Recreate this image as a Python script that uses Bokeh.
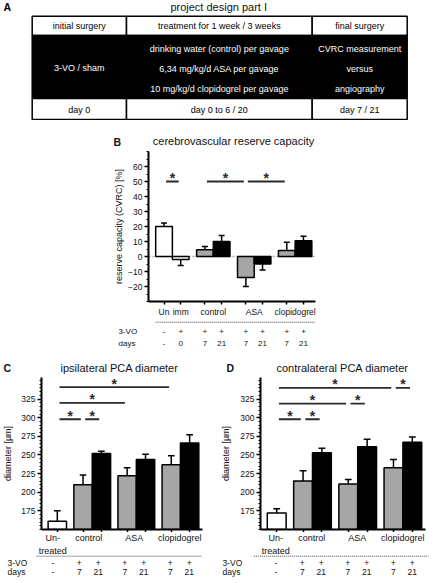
from bokeh.plotting import figure
from bokeh.models import Range1d, FixedTicker, ColumnDataSource, Span
from bokeh.layouts import column, row
from bokeh.embed import file_html
from bokeh.resources import INLINE
from bokeh.core.properties import value

FONT = "Liberation Sans"

# ---------------- data ----------------
# Panel A: project design table
a_letter = "A"
a_title = "project design part I"
a_header = ["initial surgery", "treatment for 1 week / 3 weeks", "final surgery"]
a_surgery = ["3-VO / sham"]
a_treatment = ["drinking water (control) per gavage",
               "6,34 mg/kg/d ASA per gavage",
               "10 mg/kg/d clopidogrel per gavage"]
a_final = ["CVRC measurement", "versus", "angiography"]
a_days = ["day 0", "day 0 to 6 / 20", "day 7 / 21"]

# Panel B: cerebrovascular reserve capacity
b_letter = "B"
b_title = "cerebrovascular reserve capacity"
b_ylabel = "reserve capacity (CVRC) [%]"
b_values = [20, -2, 4.5, 10, -14, -5, 4, 10.5]
b_errors = [2.4, 4, 2.2, 4, 6, 4, 5.5, 3]
b_kind = ["none", "none", "7", "21", "7", "21", "7", "21"]
b_bar_group = [0, 0, 1, 1, 2, 2, 3, 3]
b_group_labels = ["Un", "imm", "control", "ASA", "clopidogrel"]
b_group_bars = [[0], [1], [2, 3], [4, 5], [6, 7]]
b_vo = ["-", "+", "+", "+", "+", "+", "+", "+"]
b_days = ["-", "0", "7", "21", "7", "21", "7", "21"]
b_yticks = [-20, -10, 0, 10, 20, 30, 40, 50, 60]
b_sig = [(0, 1, 50), (2, 4, 50), (4, 6, 50)]

# Panels C / D: PCA diameter
cd_ylabel = "diameter [µm]"
cd_kind = ["none", "7", "21", "7", "21", "7", "21"]
cd_bar_group = [0, 1, 1, 2, 2, 3, 3]
cd_group_labels = ["Un-\ntreated", "control", "ASA", "clopidogrel"]
cd_group_bars = [[0], [1, 2], [3, 4], [5, 6]]
cd_vo = ["-", "+", "+", "+", "+", "+", "+"]
cd_days = ["-", "7", "21", "7", "21", "7", "21"]
cd_yticks = [175, 200, 225, 250, 275, 300, 325]

c_letter = "C"
c_title = "ipsilateral PCA diameter"
c_values = [161, 210, 252, 222, 244, 237, 266]
c_errors = [14, 13, 3, 11, 7, 12, 11]
c_sig = [(0, 5, 341), (0, 3, 320), (0, 1, 298), (1, 2, 298)]

d_letter = "D"
d_title = "contralateral PCA diameter"
d_values = [172, 215, 253, 211, 261, 233, 267]
d_errors = [6, 14, 6, 6, 10, 11, 7]
d_sig = [(0, 5, 340), (5, 6, 340), (0, 3, 319), (3, 4, 319), (0, 1, 298), (1, 2, 298)]

row_names = ["3-VO", "days"]

# ---------------- style / layout ----------------
W, H = 436, 583
FILL = {"none": "white", "7": "#a6a6a6", "21": "black"}
CAP = 0.18
INSET = 0.12
TXT = "#111111"
SIG = "#2a2a2a"
LETTER_SIZE = "10.5px"


def bar_positions(groups, gap):
    return [i + gap * g for i, g in enumerate(groups)]


def label_positions(xs, group_bars):
    return [sum(xs[i] for i in bars) / len(bars) for bars in group_bars]


def plain_fig(w, h, xr, yr):
    p = figure(width=w, height=h, x_range=xr, y_range=yr, output_backend="svg",
               toolbar_location=None, x_axis_location=None, y_axis_location=None,
               title=None, min_border_left=0, min_border_right=0,
               min_border_top=0, min_border_bottom=0)
    p.frame_align = False
    p.grid.visible = False
    p.outline_line_color = None
    return p


def chart_fig(w, h, xr, yr, left, right, top, bottom):
    p = figure(width=w, height=h, x_range=xr, y_range=yr, output_backend="svg",
               toolbar_location=None, title=None, min_border_left=left,
               min_border_right=right, min_border_top=top, min_border_bottom=bottom)
    p.frame_align = False
    p.grid.visible = False
    p.outline_line_color = None
    return p


def style_axes(p, xs, yticks, yminor, ylabel, label_standoff):
    xa = p.xaxis[0]
    xa.ticker = FixedTicker(ticks=[], minor_ticks=xs)
    xa.major_label_standoff = 0
    xa.major_tick_out = 0
    xa.major_tick_in = 0
    xa.minor_tick_out = 3
    xa.minor_tick_in = 0
    xa.minor_tick_line_width = 1.5
    xa.minor_tick_line_color = "black"
    xa.axis_line_width = 2
    ya = p.yaxis[0]
    ya.ticker = FixedTicker(ticks=yticks, minor_ticks=yminor)
    ya.major_tick_out = 4
    ya.major_tick_in = 0
    ya.major_tick_line_width = 1.5
    ya.minor_tick_out = 2
    ya.minor_tick_in = 0
    ya.minor_tick_line_width = 1
    ya.axis_line_width = 2
    ya.major_label_text_font = FONT
    ya.major_label_text_font_size = "8.5px"
    ya.major_label_text_color = TXT
    ya.major_label_standoff = 2
    ya.axis_label = ylabel
    ya.axis_label_text_font = FONT
    ya.axis_label_text_font_size = "9px"
    ya.axis_label_text_font_style = "normal"
    ya.axis_label_text_color = TXT
    ya.axis_label_standoff = label_standoff


def draw_bars(p, xs, vals, errs, kinds, base):
    tips = [v + e if v >= 0 else v - e for v, e in zip(vals, errs)]
    src = ColumnDataSource(dict(x=xs, top=vals, tip=tips,
                                xl=[x - CAP for x in xs], xr=[x + CAP for x in xs],
                                fill=[FILL[k] for k in kinds]))
    p.segment(x0="x", y0="top", x1="x", y1="tip", line_color="black",
              line_width=1.5, source=src)
    p.vbar(x="x", width=1, bottom=base, top="top", fill_color="fill",
           line_color="black", line_width=1.5, source=src)
    p.segment(x0="xl", y0="tip", x1="xr", y1="tip", line_color="black",
              line_width=1.5, source=src)


def draw_sig(p, xs, sig):
    x0 = [xs[i] + INSET for i, j, y in sig]
    x1 = [xs[j] - INSET for i, j, y in sig]
    ys = [y for i, j, y in sig]
    p.segment(x0=x0, y0=ys, x1=x1, y1=ys, line_color=SIG, line_width=1.8)
    p.text(x=[(a + b) / 2 for a, b in zip(x0, x1)], y=ys, text=["*"] * len(sig),
           text_align="center", text_baseline="alphabetic", y_offset=-3.5,
           text_font=value(FONT), text_font_size="14px", text_font_style="bold",
           text_color=SIG)


def header_fig(h, items):
    # items: (x_px, centre_px, text, size, bold, align)
    p = plain_fig(W, h, Range1d(0, W), Range1d(h, 0))
    for x, y, t, size, bold, align in items:
        p.text(x=[x], y=[y], text=[t], text_align=align, text_baseline="middle",
               text_font=value(FONT), text_font_size=size,
               text_font_style="bold" if bold else "normal", text_color=TXT)
    return p


def rows_fig(w, h, x0, x1, left, right, frame_w, xs, labels, label_bars,
             vo, days, label_y, line_x, line_y, row_y, name_px, lab_size,
             row_size, line_height):
    ppu = frame_w / (x1 - x0)
    xr = Range1d(x0 - left / ppu, x1 + right / ppu)
    p = plain_fig(w, h, xr, Range1d(h, 0))
    lx = label_positions(xs, label_bars)
    p.text(x=lx, y=[label_y] * len(lx), text=labels, text_align="center",
           text_baseline="top", text_font=value(FONT), text_font_size=lab_size,
           text_color=TXT, text_line_height=line_height)
    p.segment(x0=[line_x[0]], y0=[line_y], x1=[line_x[1]], y1=[line_y],
              line_color="#444444", line_width=1, line_dash="1 1")
    nx = xr.start + name_px / ppu
    p.text(x=[nx, nx], y=row_y, text=row_names, text_align="left",
           text_baseline="middle", text_font=value(FONT), text_font_size=row_size,
           text_color=TXT)
    p.text(x=xs, y=[row_y[0]] * len(xs), text=vo, text_align="center",
           text_baseline="middle", text_font=value(FONT), text_font_size=row_size,
           text_color=TXT)
    p.text(x=xs, y=[row_y[1]] * len(xs), text=days, text_align="center",
           text_baseline="middle", text_font=value(FONT), text_font_size=row_size,
           text_color=TXT)
    return p


# ---------------- panel A ----------------
A_H = 120
col_edges = [31.7, 126, 311.7, 406.7]
row_edges = [15.7, 35, 98, 119]
figA = plain_fig(W, A_H, Range1d(0, W), Range1d(A_H, 0))
lefts = col_edges[:-1]
rights = col_edges[1:]
centers = [(a + b) / 2 for a, b in zip(lefts, rights)]
figA.quad(left=lefts, right=rights, top=[row_edges[0]] * 3, bottom=[row_edges[1]] * 3,
          fill_color="white", line_color="black", line_width=1.5)
figA.quad(left=[col_edges[0]], right=[col_edges[-1]], top=[row_edges[1]],
          bottom=[row_edges[2]], fill_color="black", line_color="black", line_width=1.5)
figA.quad(left=lefts, right=rights, top=[row_edges[2]] * 3, bottom=[row_edges[3]] * 3,
          fill_color="white", line_color="black", line_width=1.5)
hy = (row_edges[0] + row_edges[1]) / 2 + 0.6
fy = (row_edges[2] + row_edges[3]) / 2 + 1.2
mid = (row_edges[1] + row_edges[2]) / 2 + 1.8
line_gap = 20.3
tkw = dict(text_align="center", text_baseline="middle", text_font=value(FONT),
           text_font_size="9px")
figA.text(x=centers, y=[hy] * 3, text=a_header, text_color="black", **tkw)
figA.text(x=centers, y=[fy] * 3, text=a_days, text_color="black", **tkw)
figA.text(x=[centers[0]], y=[mid - 1], text=a_surgery, text_color="white", **tkw)
ly = [mid + (k - 1) * line_gap for k in range(3)]
figA.text(x=[centers[1]] * 3, y=ly, text=a_treatment, text_color="white", **tkw)
figA.text(x=[centers[2]] * 3, y=ly, text=a_final, text_color="white", **tkw)
figA.text(x=[(col_edges[0] + col_edges[-1]) / 2 - 1], y=[6.3], text=[a_title],
          text_align="center", text_baseline="middle", text_font=value(FONT),
          text_font_size="11px", text_color=TXT)
figA.text(x=[3], y=[6.7], text=[a_letter], text_align="left", text_baseline="middle",
          text_font=value(FONT), text_font_size=LETTER_SIZE, text_font_style="bold",
          text_color="black")

# ---------------- panel B ----------------
B_LEFT, B_FW, B_TOP, B_FH, B_BOT = 148, 167, 1, 150, 5
B_RIGHT = W - B_LEFT - B_FW
B_H = B_TOP + B_FH + B_BOT
BH_H = 30
figBH = header_fig(BH_H, [(113, 21, b_letter, LETTER_SIZE, True, "left"),
                          (B_LEFT + B_FW / 2 + 1.5, 20.3, b_title, "11px", False, "center")])

b_x = bar_positions(b_bar_group, 0.45)
b_x0, b_x1 = b_x[0] - 0.93, b_x[-1] + 0.72
figB = chart_fig(W, B_H, Range1d(b_x0, b_x1), Range1d(-30, 70), B_LEFT, B_RIGHT,
                 B_TOP, B_BOT)
style_axes(figB, b_x, b_yticks, list(range(-30, 71, 5)), b_ylabel, 1)
figB.add_layout(Span(location=0, dimension="width", line_color="#a8a8a8",
                     line_dash="2 2", line_width=1.5, level="underlay"))
draw_bars(figB, b_x, b_values, b_errors, b_kind, 0)
draw_sig(figB, b_x, b_sig)

BR_H = 54
figBR = rows_fig(W, BR_H, b_x0, b_x1, B_LEFT, B_RIGHT, B_FW, b_x, b_group_labels,
                 b_group_bars, b_vo, b_days, 0.5, (b_x[0] - 0.5, b_x1), 15.7,
                 [24.7, 36.7], 118, "8.5px", "8px", 1.2)

# ---------------- panels C / D ----------------
CDH_H = 17
CD_TOP, CD_FH, CD_BOT, CD_FW = 0, 152, 3, 166
CD_H = CD_TOP + CD_FH + CD_BOT
CDR_H = H - A_H - BH_H - B_H - BR_H - CDH_H - CD_H
HW = W // 2
C_LEFT = 36
C_RIGHT = HW - C_LEFT - CD_FW
D_LEFT = 41
D_RIGHT = HW - D_LEFT - CD_FW

figCDH = header_fig(CDH_H, [(3, 7, c_letter, LETTER_SIZE, True, "left"),
                            (C_LEFT + CD_FW / 2, 7, c_title, "11px", False, "center"),
                            (226, 7, d_letter, LETTER_SIZE, True, "left"),
                            (HW + D_LEFT + CD_FW / 2, 7, d_title, "11px", False, "center")])

cd_x = bar_positions(cd_bar_group, 0.4)
cd_x0, cd_x1 = cd_x[0] - 0.86, cd_x[-1] + 0.7
cd_minor = list(range(150, 355, 5))

figC = chart_fig(HW, CD_H, Range1d(cd_x0, cd_x1), Range1d(150, 354), C_LEFT, C_RIGHT,
                 CD_TOP, CD_BOT)
style_axes(figC, cd_x, cd_yticks, cd_minor, cd_ylabel, 5)
draw_bars(figC, cd_x, c_values, c_errors, cd_kind, 150)
draw_sig(figC, cd_x, c_sig)

figD = chart_fig(HW, CD_H, Range1d(cd_x0, cd_x1), Range1d(150, 354), D_LEFT, D_RIGHT,
                 CD_TOP, CD_BOT)
style_axes(figD, cd_x, cd_yticks, cd_minor, cd_ylabel, 6)
draw_bars(figD, cd_x, d_values, d_errors, cd_kind, 150)
draw_sig(figD, cd_x, d_sig)

figCR = rows_fig(HW, CDR_H, cd_x0, cd_x1, C_LEFT, C_RIGHT, CD_FW, cd_x, cd_group_labels,
                 cd_group_bars, cd_vo, cd_days, 0.5, (cd_x0, cd_x1), 23.7,
                 [30.7, 39.7], 7, "9px", "8.5px", 1.3)
figDR = rows_fig(HW, CDR_H, cd_x0, cd_x1, D_LEFT, D_RIGHT, CD_FW, cd_x, cd_group_labels,
                 cd_group_bars, cd_vo, cd_days, 0.5, (cd_x0 - 0.3, cd_x1 + 0.15), 23.7,
                 [30.7, 39.7], 4, "9px", "8.5px", 1.3)

layout = column(figA, figBH, figB, figBR, figCDH, row(figC, figD), row(figCR, figDR))
open("out.html", "w").write(file_html(layout, INLINE))
